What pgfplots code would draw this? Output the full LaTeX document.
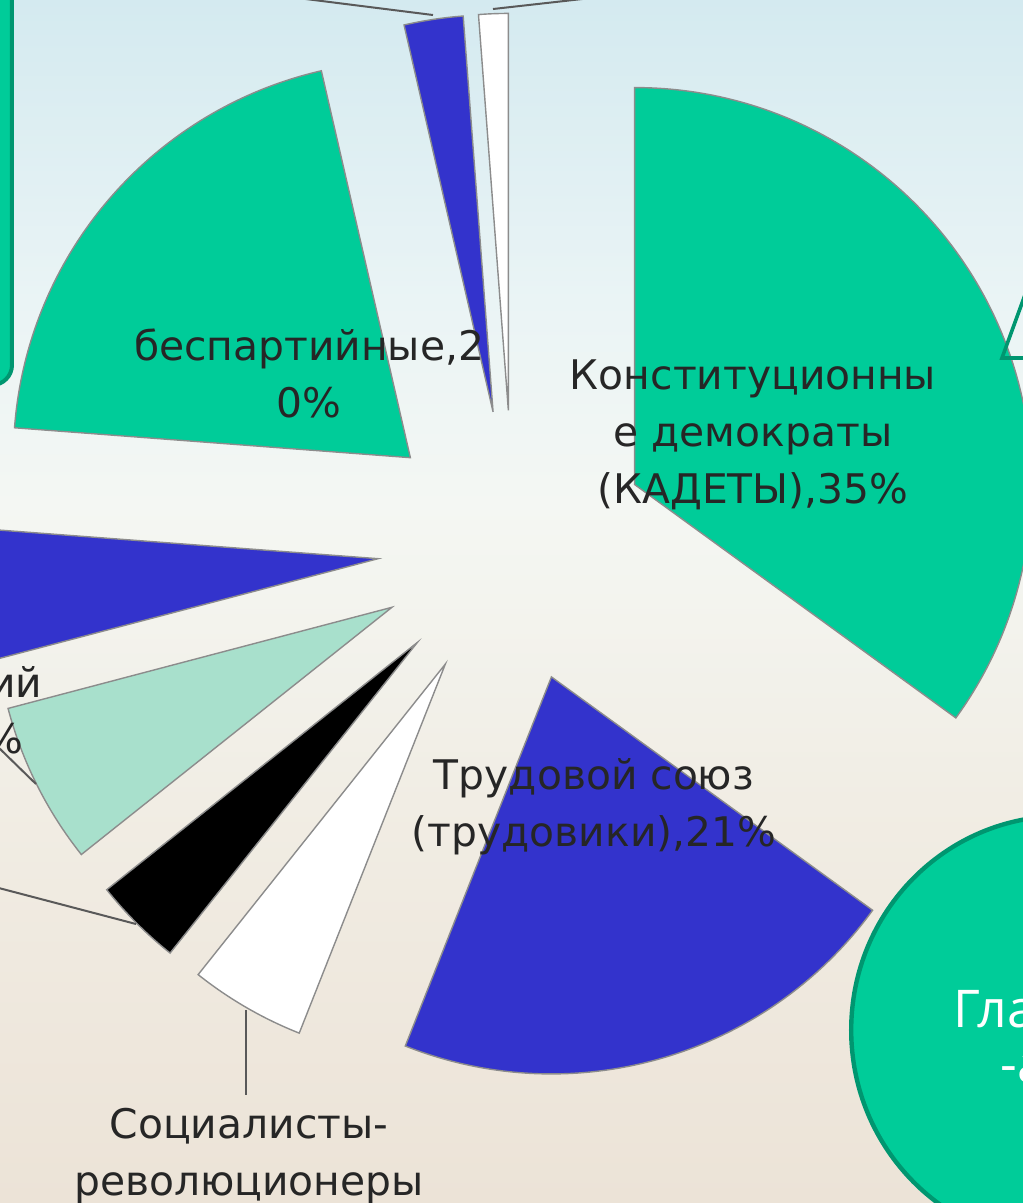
\documentclass[border=0pt]{standalone}
\usepackage{pgfplots}
\pgfplotsset{compat=1.18}
\usepackage{pgfplotstable}
\usepackage{fontspec}
\setmainfont{DejaVu Sans}
\newfontfamily\ellfont{Open Sans}
\definecolor{cgreen}{RGB}{0,204,153}
\definecolor{cblue}{RGB}{51,51,204}
\definecolor{clight}{RGB}{168,224,204}
\definecolor{slicegray}{RGB}{140,140,140}
\definecolor{dkgreen}{RGB}{0,150,112}
\definecolor{bgtop}{RGB}{212,234,240}
\definecolor{bgup}{RGB}{234,244,245}
\definecolor{bgmid}{RGB}{244,247,243}
\definecolor{bglow}{RGB}{241,237,228}
\definecolor{bgbot}{RGB}{236,227,215}
\pgfdeclareverticalshading{bgshade}{100bp}{color(0bp)=(bgbot); color(25bp)=(bgbot); color(41.7bp)=(bglow); color(54bp)=(bgmid); color(62.5bp)=(bgup); color(75bp)=(bgtop); color(100bp)=(bgtop)}
\newcommand\lbl{\fontsize{10.2pt}{14.25pt}\selectfont}

% share of seats (%), clockwise from 12 o'clock
\pgfplotstableread{
party value colour
kadety 35.0 cgreen
trudoviki 21.0 cblue
esery 4.7 white
sd 3.6 black
lightgr 6.6 clight
blueleft 5.3 cblue
bespart 20.2 cgreen
smallblue 2.4 cblue
smallwhite 1.2 white
}\piedata

\begin{document}
\begin{tikzpicture}
\begin{scope}
\clip (0,0) rectangle (255.75pt,300.75pt);
\shade[shading=bgshade] (0,0) rectangle (255.75pt,300.75pt);
\begin{axis}[at={(0,0)}, anchor=south west, x=0.25pt, y=0.25pt, y dir=reverse,
  xmin=0, xmax=1023, ymin=0, ymax=1203, hide axis, clip=false]
% pie slices (centre 513.5,546.3 px; explode 136 px; radius 397 px)
\pgfplotstablegetrowsof{\piedata}
\pgfmathtruncatemacro{\nrows}{\pgfplotsretval-1}
\xdef\cumul{0}
\pgfplotsforeachungrouped \i in {0,...,\nrows}{%
  \pgfplotstablegetelem{\i}{value}\of\piedata \let\sliceval\pgfplotsretval
  \pgfplotstablegetelem{\i}{colour}\of\piedata \let\slicecol\pgfplotsretval
  \pgfmathsetmacro\aone{\cumul*3.6}%
  \pgfmathsetmacro\atwo{(\cumul+\sliceval)*3.6}%
  \pgfmathsetmacro\amid{(\aone+\atwo)/2}%
  \pgfmathsetmacro\ax{513.5+136*sin(\amid)}%
  \pgfmathsetmacro\ay{546.3-136*cos(\amid)}%
  \pgfmathsetmacro\tone{90-\aone}%
  \pgfmathsetmacro\ttwo{90-\atwo}%
  \edef\doslice{\noexpand\filldraw[fill=\slicecol, draw=slicegray, line width=0.35pt, line join=miter] (axis cs:\ax,\ay) -- ++(\tone:99.25pt) arc[start angle=\tone, end angle=\ttwo, radius=99.25pt] -- cycle;}%
  \doslice
  \pgfmathsetmacro\newcum{\cumul+\sliceval}%
  \xdef\cumul{\newcum}%
}
% leader lines
\draw[black!65, line width=0.5pt] (axis cs:290,-3) -- (axis cs:433,15);
\draw[black!65, line width=0.5pt] (axis cs:493,9) -- (axis cs:600,-3);
\draw[black!65, line width=0.5pt] (axis cs:-4,745) -- (axis cs:36,784);
\draw[black!65, line width=0.5pt] (axis cs:-5,887) -- (axis cs:136,924);
\draw[black!65, line width=0.5pt] (axis cs:246,1010) -- (axis cs:246,1095);
% labels
\node[align=center, font=\lbl, text=black!85, inner sep=0] at (axis cs:309,373) {беспартийные,2\\0\%};
\node[align=center, font=\lbl, text=black!85, inner sep=0] at (axis cs:753,435) {Конституционны\\е демократы\\(КАДЕТЫ),35\%};
\node[align=center, font=\lbl, text=black!85, inner sep=0] at (axis cs:594,807) {Трудовой союз\\(трудовики),21\%};
\node[align=center, font=\lbl, text=black!85, inner sep=0] at (axis cs:249,1156) {Социалисты-\\революционеры};
\node[anchor=base east, font=\lbl, text=black!85, inner sep=0] at (axis cs:43,697) {национальных партий};
\node[anchor=base east, font=\lbl, text=black!85, inner sep=0] at (axis cs:24,753) {автономисты,7\%};
% slide decorations
\filldraw[fill=cgreen, draw=dkgreen, line width=1pt, rounded corners=5pt] (axis cs:-60,-60) rectangle (axis cs:12,385);
\draw[dkgreen, line width=0.9pt] (axis cs:1002,358) -- (axis cs:1045,240) -- (axis cs:1090,358) -- cycle;
\filldraw[fill=cgreen, draw=dkgreen, line width=1.1pt] (axis cs:1062,1030) ellipse [x radius=52.7pt, y radius=53.5pt];
\node[anchor=base west, font=\ellfont\fontsize{13pt}{16pt}\selectfont, text=white, inner sep=0] at (axis cs:953,1027) {Главная};
\node[anchor=base west, font=\ellfont\fontsize{13pt}{16pt}\selectfont, text=white, inner sep=0] at (axis cs:1000,1082) {-ая сила};
\end{axis}
\end{scope}
\pgfresetboundingbox
\path[use as bounding box] (0,0) rectangle (255.75pt,300.75pt);
\end{tikzpicture}
\end{document}
